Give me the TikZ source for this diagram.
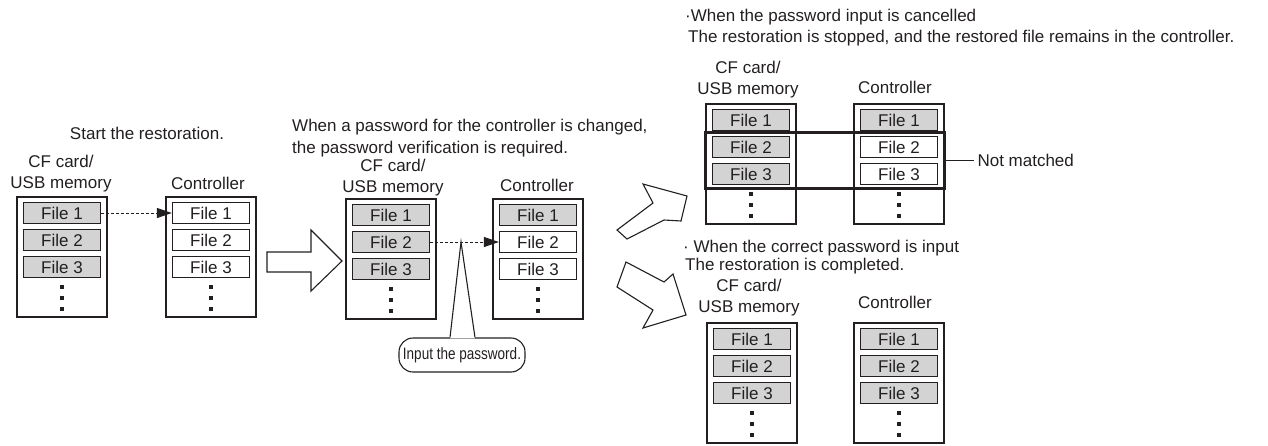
\documentclass[tikz,border=0pt]{standalone}
\usepackage{fontspec}
\setmainfont{Liberation Sans}
\usetikzlibrary{arrows.meta,calc,fit}
\definecolor{inkGray}{HTML}{231F20}
\definecolor{fileGray}{HTML}{D3D3D3}

\begin{document}
\begin{tikzpicture}[x=1pt,y=-1pt,font=\fontsize{17}{21}\selectfont,text=inkGray,
  memory/.style={draw=inkGray,line width=1.2pt,minimum width=90pt,minimum height=120pt,inner sep=0pt},
  filebox/.style={draw=inkGray,line width=1.2pt,minimum width=77pt,minimum height=21pt,inner sep=0pt},
  boxtitle/.style={align=center,inner sep=0pt,anchor=south},
  heading/.style={align=left,inner sep=0pt,anchor=west},
  copyline/.style={draw=inkGray,line width=1pt,dash pattern=on 3pt off 2pt,-{Triangle[length=15pt,width=10pt]}},
  bigarrow/.style={draw=inkGray,fill=white,line width=1.1pt}]
  \useasboundingbox (0,0) rectangle (1268,445);
  \foreach \n/\x/\y/\fa/\fb/\fc in {s1/17/197/fileGray/fileGray/fileGray,c1/166/197/white/white/white,
      s2/346/199/fileGray/fileGray/fileGray,c2/493/199/fileGray/white/white,
      s3/706/104/fileGray/fileGray/fileGray,c3/854/104/fileGray/white/white,
      s4/707/323/fileGray/fileGray/fileGray,c4/854/323/fileGray/fileGray/fileGray}{
    \node[memory] (\n) at (\x+45,\y+60) {};
    \node[filebox,fill=\fa] (\n-1) at (\x+45,\y+16) {File 1};
    \node[filebox,fill=\fb] (\n-2) at (\x+45,\y+43) {File 2};
    \node[filebox,fill=\fc] (\n-3) at (\x+45,\y+70) {File 3};
    \foreach \d in {88,99,110}
      \fill[inkGray] (\x+42.8,\y+\d) rectangle +(4.5,4);
  }
  \node[boxtitle] (s1t) at (61,192.6) {CF card/\\USB memory};
  \node (c1t) at (208,183) {Controller};
  \node[boxtitle] (s2t) at (393,196) {CF card/\\USB memory};
  \node (c2t) at (537,185.5) {Controller};
  \node[boxtitle] (s3t) at (748,98.6) {CF card/\\USB memory};
  \node (c3t) at (895,87.5) {Controller};
  \node[boxtitle] (s4t) at (749,316.6) {CF card/\\USB memory};
  \node (c4t) at (895,302) {Controller};
  \node (start) at (147,133) {Start the restoration.};
  \node[heading] (verify) at (292,137.6) {When a password for the controller is changed,\\[1pt]the password verification is required.};
  \node[heading] (cancel) at (685,28) {·When the password input is cancelled\\\hspace*{3pt}The restoration is stopped, and the restored file remains in the controller.};
  \node[heading] (correct) at (683,257) {· When the correct password is input\\[-3pt]\hspace*{2pt}The restoration is completed.};
  \draw[copyline] (s1-1) -- (c1-1);
  \draw[copyline] (s2-2) -- (c2-2);
  \coordinate (tip) at (461,242);
  \node[draw=inkGray,line width=1.1pt,rounded corners=14pt,minimum width=126pt,minimum height=34pt,inner sep=0pt,
    font=\fontsize{16.5}{18}\selectfont] (pw) at (462,355) {\scalebox{.82}[1]{Input the password.}};
  \fill[white] ([xshift=-12pt,yshift=-1pt]pw.north) -- (tip) -- ([xshift=13pt,yshift=-1pt]pw.north) -- cycle;
  \draw[inkGray,line width=1.1pt] ([xshift=-12pt]pw.north) -- (tip) -- ([xshift=13pt]pw.north);
  \node[fit=(s3-2)(c3-3),draw=inkGray,line width=3pt,inner xsep=6pt,inner ysep=3pt] (nomatch) {};
  \node[anchor=west] (nmtext) at (974,160.5) {Not matched};
  \draw[inkGray,line width=1.8pt] (nomatch) -- (nmtext);
  \draw[bigarrow] (267,252) -- (311,252) -- (311,230) -- (342,261) -- (311,291) -- (311,272) -- (267,272) -- cycle;
  \draw[bigarrow] (617,230) -- (653,203) -- (643,184) -- (687,196) -- (681,221) -- (664,220) -- (627,239) -- cycle;
  \draw[bigarrow] (626,262) -- (664,282) -- (673,274) -- (686,315) -- (643,328) -- (653,310) -- (617,287) -- cycle;
\end{tikzpicture}
\end{document}
